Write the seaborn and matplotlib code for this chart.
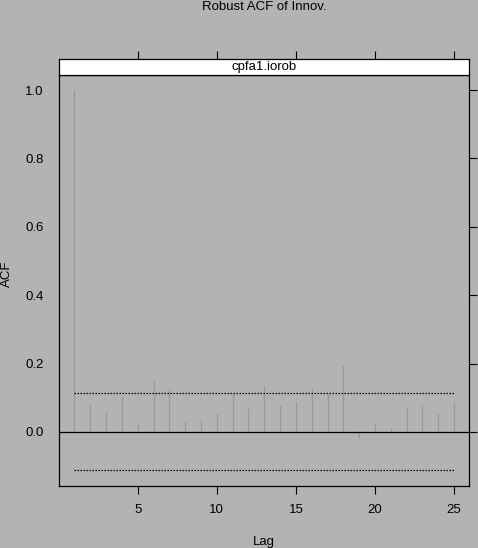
import numpy as np
import pandas as pd
import matplotlib
matplotlib.use("Agg")
import matplotlib.pyplot as plt
import seaborn as sns

# Data
lags = list(range(1, 26))
acf = [1.0, 0.079, 0.058, 0.102, 0.020, 0.149, 0.126, 0.029, 0.035, 0.053,
       0.115, 0.067, 0.135, 0.077, 0.088, 0.126, 0.110, 0.193, -0.016, 0.026,
       0.012, 0.070, 0.079, 0.053, 0.085]
bound = 0.1125
xticks = [5, 10, 15, 20, 25]
yticks = [0.0, 0.2, 0.4, 0.6, 0.8, 1.0]

sns.set_style("white")
plt.rcParams["font.family"] = ["Liberation Sans", "DejaVu Sans"]
plt.rcParams["text.color"] = "black"
plt.rcParams["axes.labelcolor"] = "black"
bg = "#b3b3b3"
fs = 9.5

# long form: one segment (0 -> value) per lag
seg = pd.DataFrame({
    "lag": [l for l in lags for _ in range(2)],
    "acf": [v for a in acf for v in (0.0, a)],
})
bounds = pd.DataFrame({
    "lag": [lags[0], lags[-1], lags[0], lags[-1]],
    "acf": [bound, bound, -bound, -bound],
    "side": ["up", "up", "lo", "lo"],
})

fig = plt.figure(figsize=(4.78, 5.48), dpi=100, facecolor=bg)
W, H = 478, 548
left, right, top, bot, strip_h = 59.3, 469.3, 75.3, 486.3, 16
ax = fig.add_axes([left / W, 1 - bot / H, (right - left) / W, (bot - top) / H])
sax = fig.add_axes([left / W, 1 - top / H, (right - left) / W, strip_h / H], sharex=ax)
ax.set_facecolor(bg)

sns.lineplot(data=seg, x="lag", y="acf", units="lag", estimator=None,
             color="#999999", linewidth=0.9, ax=ax, legend=False)
sns.lineplot(data=bounds, x="lag", y="acf", units="side", estimator=None,
             color="black", linewidth=0.9, linestyle=(0, (1.2, 1.2)), ax=ax,
             legend=False)
ax.axhline(0, color="black", linewidth=0.9)

ax.set_xlim(0.04, 25.96)
ax.set_ylim(-0.159, 1.043)
ax.set_xticks(xticks)
ax.set_yticks(yticks)
ax.set_yticklabels([f"{t:.1f}" for t in yticks])
ax.tick_params(axis="both", direction="out", length=5.8, width=0.8, color="black",
               labelsize=fs, labelcolor="black")
ax.tick_params(axis="x", pad=7)
ax.tick_params(axis="y", pad=5.5, right=True)
ax.tick_params(axis="x", bottom=True, top=False)
for s in ax.spines.values():
    s.set_color("black")
    s.set_linewidth(0.9)
ax.set_xlabel("Lag", fontsize=fs, labelpad=14, color="black")
ax.set_ylabel("")

# strip with panel name, top ticks sit above it
sax.set_facecolor("white")
sax.set_yticks([])
sax.tick_params(axis="x", direction="out", length=5.8, width=0.8, color="black",
                bottom=False, top=True, labelbottom=False, labeltop=False)
for s in sax.spines.values():
    s.set_color("black")
    s.set_linewidth(0.9)
sax.text(0.5, 0.5, "cpfa1.iorob", transform=sax.transAxes, ha="center",
         va="center", fontsize=fs, color="black")

fig.text(264 / W, 1 - 6.5 / H, "Robust ACF of Innov.", ha="center", va="center",
         fontsize=fs, color="black")
fig.text(7 / W, 1 - 274 / H, "ACF", ha="center", va="center", rotation=90,
         fontsize=fs, color="black")

fig.savefig("out.png", dpi=100, facecolor=bg)
